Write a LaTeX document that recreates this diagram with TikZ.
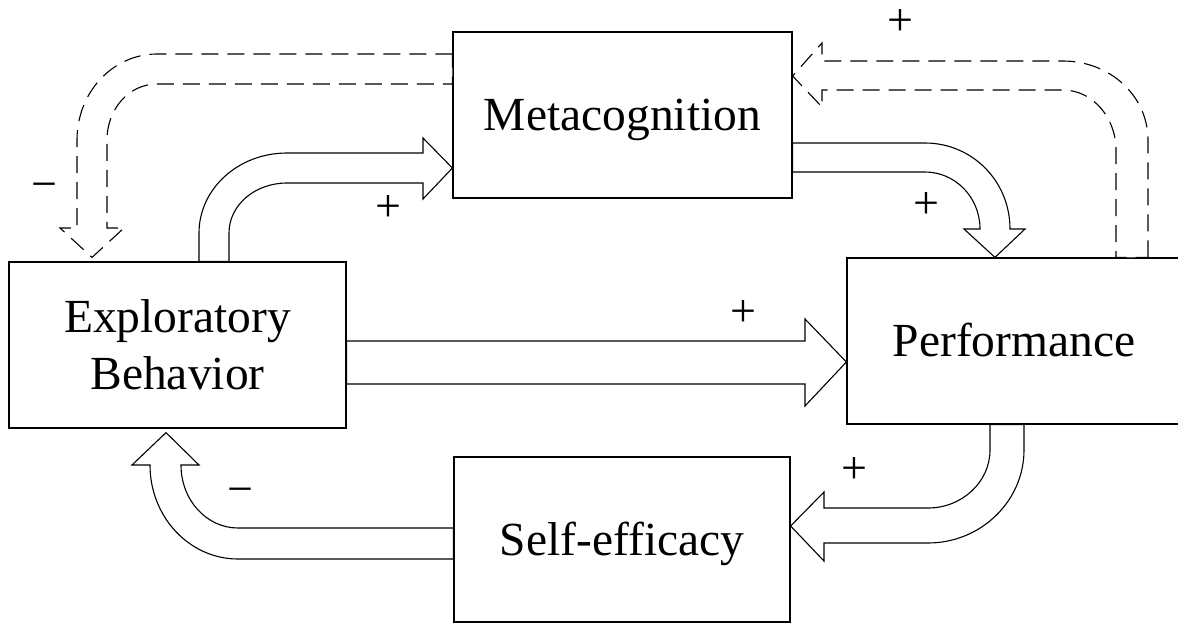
\documentclass[tikz,border=0pt]{standalone}
\usepackage{fontspec}
\setmainfont{Liberation Serif}
\usetikzlibrary{calc}
\begin{document}
\begin{tikzpicture}[x=1pt,y=-1pt,
  box/.style={draw, line width=1.2pt, rectangle, inner sep=0pt, font=\fontsize{47.5}{57}\selectfont, align=center},
  onecap/.style={text height=31.4pt, text depth=0pt},
  barrow/.style={draw, line width=1.1pt, fill=white, line join=miter},
  darrow/.style={barrow, dash pattern=on 17pt off 9pt},
  sign/.style={font=\fontsize{46}{46}\selectfont, inner sep=0pt, text height=23pt, text depth=0pt}]
\useasboundingbox (0,0) rectangle (1178,624);
\fill[white] (0,0) rectangle (1178,624);
\clip (0,0) rectangle (1178,624);

% boxes
\node[box, onecap, minimum width=339pt, minimum height=166pt] (meta) at (622.5,115) {Metacognition};
\node[box, minimum width=337pt, minimum height=166pt] (expl) at (177.5,345) {Exploratory\\Behavior};
\node[box, onecap, minimum width=334pt, minimum height=166pt] (perf) at (1014,341) {Performance};
\node[box, onecap, minimum width=336pt, minimum height=165pt] (self) at (622,539.5) {Self-efficacy};

% Exploratory -> Metacognition
\draw[barrow] (199,0 |- expl.north) -- (199,233) .. controls (199,189) and (238,153) .. (287,153) -- (423,153) -- (423,138) -- (meta.west |- 0,168) -- (423,199) -- (423,183) -- (287,183) .. controls (255,183) and (229,205) .. (229,233) -- (229,0 |- expl.north) -- cycle;

% Metacognition -> Performance
\draw[barrow] (meta.east |- 0,143) -- (925,143) .. controls (972,143) and (1010,181) .. (1010,229) -- (1025,229) -- (995,0 |- perf.north) -- (964,229) -- (980,229) .. controls (980,197) and (955,172) .. (925,172) -- (meta.east |- 0,172) -- cycle;

% Performance -> Metacognition (dashed)
\draw[darrow] (1148,0 |- perf.north) -- (1148,140) .. controls (1148,96) and (1110,61) .. (1063,61) -- (822,61) -- (822,43) -- (meta.east |- 0,76) -- (822,107) -- (822,90) -- (1063,90) .. controls (1092,90) and (1116,117) .. (1116,150) -- (1116,0 |- perf.north) -- cycle;

% Metacognition -> Exploratory (dashed)
\draw[darrow] (meta.west |- 0,54) -- (157,54) .. controls (113,54) and (77,92) .. (77,140) -- (77,228) -- (60,228) -- ($(92,0 |- expl.north)+(0,-4)$) -- (124,228) -- (107,228) -- (107,140) .. controls (107,109) and (129,84) .. (157,84) -- (meta.west |- 0,84) -- cycle;

% Exploratory -> Performance
\draw[barrow] (expl.east |- 0,341) -- (805,341) -- (805,319) -- (perf.west |- 0,362) -- (805,406) -- (805,384) -- (expl.east |- 0,384) -- cycle;

% Performance -> Self-efficacy
\draw[barrow] (1024,0 |- perf.south) -- (1024,450) .. controls (1024,501) and (981,543) .. (928,543) -- (824,543) -- (824,561) -- (self.east |- 0,526) -- (824,492) -- (824,508) -- (928,508) .. controls (962,508) and (990,482) .. (990,450) -- (990,0 |- perf.south) -- cycle;

% Self-efficacy -> Exploratory
\draw[barrow] (self.west |- 0,528) -- (238,528) .. controls (206.5,528) and (181,500) .. (181,465) -- (199,465) -- ($(166,0 |- expl.south)+(0,4)$) -- (132,465) -- (150,465) .. controls (150,517) and (189.4,559) .. (238,559) -- (self.west |- 0,559) -- cycle;

% signs
\node[sign] (m1) at (44,188) {−};
\node[sign] (p1) at (388,210) {+};
\node[sign] (p2) at (926,207) {+};
\node[sign] (p3) at (900,24) {+};
\node[sign] (p4) at (743,315) {+};
\node[sign] (p5) at (854,472) {+};
\node[sign] (m2) at (240,493) {−};
\end{tikzpicture}
\end{document}
